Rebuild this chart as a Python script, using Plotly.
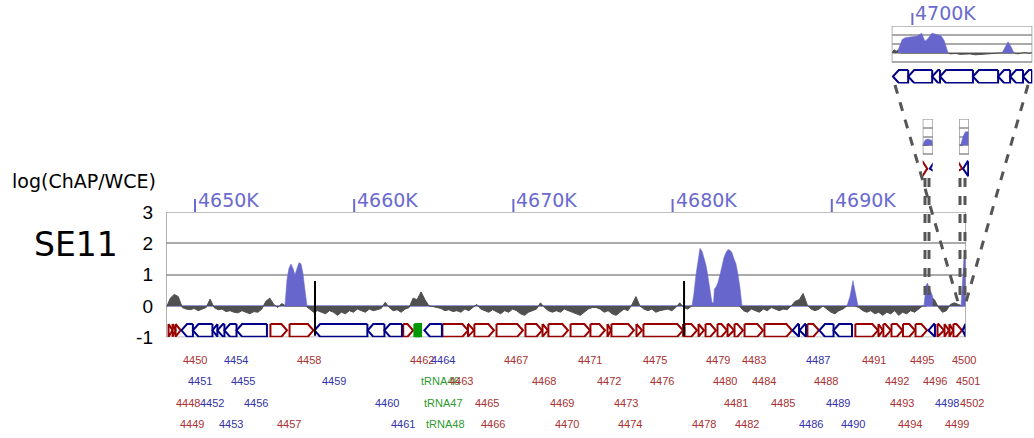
import numpy as np
import plotly.graph_objects as go

W, H = 1034, 438

# main window (kb)
view_kb = [4648.18, 4698.43]
tick_kb = [4650, 4660, 4670, 4680, 4690]
tick_text = ['4650K', '4660K', '4670K', '4680K', '4690K']
y_ticks = [-1, 0, 1, 2, 3]

# log(ChAP/WCE), one value every 0.25 kb from 4648.2 kb
sig_start, sig_step = 4648.2, 0.25
sig_val = [
    -0.05, 0.25, 0.37, 0.3, -0.05, -0.1, -0.12, -0.08, -0.15, -0.1,
    -0.05, 0.22, -0.05, -0.12, -0.1, -0.18, -0.15, -0.2, -0.22, -0.15,
    -0.2, -0.25, -0.18, -0.2, -0.1, 0.15, 0.25, 0.05, -0.05, 0.08,
    0, 0, 0, 0, 0, 0, -0.1, -0.2, -0.15, -0.2,
    -0.25, -0.15, -0.2, -0.3, -0.2, -0.25, -0.15, -0.2, -0.1, -0.15,
    -0.2, -0.1, -0.15, -0.12, -0.08, 0.12, -0.05, -0.15, -0.12, -0.2,
    -0.1, -0.05, 0.25, 0.2, 0.45, 0.2, 0.0, -0.02, -0.05, -0.08,
    -0.15, -0.12, -0.18, -0.15, -0.2, -0.1, -0.15, -0.05, 0.05, -0.1,
    -0.15, -0.2, -0.12, -0.18, -0.25, -0.15, -0.2, -0.1, -0.15, -0.25,
    -0.3, -0.2, -0.15, -0.1, 0.1, -0.05, -0.15, -0.2, -0.15, -0.2,
    -0.1, -0.15, -0.2, -0.25, -0.3, -0.2, -0.1, -0.05, -0.05, -0.1,
    -0.2, -0.15, -0.25, -0.3, -0.2, -0.1, -0.15, 0.05, 0.3, 0.0,
    -0.1, -0.15, -0.1, -0.2, -0.15, -0.12, -0.1, -0.15, -0.05, 0.1,
    -0.05, -0.1, 0, 0, 0, 0, 0, 0, 0, 0,
    0, 0, 0, 0, 0, -0.15, -0.2, -0.1, -0.15, -0.2,
    -0.1, -0.15, -0.05, -0.1, -0.15, -0.1, -0.12, 0.0, 0.15, 0.2,
    0.4, 0.05, -0.1, -0.15, -0.1, 0.0, -0.1, -0.2, -0.25, -0.15,
    -0.1, 0, 0, 0, -0.05, -0.15, -0.2, -0.15, -0.25, -0.2,
    -0.3, -0.2, -0.25, -0.15, -0.3, -0.2, -0.25, -0.15, -0.2, -0.1,
    0, 0, 0.3, 0.2, -0.05, -0.2, -0.15, 0.05, 0.1, 0.05,
    0,
]
sig_kb = sig_start + sig_step * np.arange(len(sig_val))

# called peaks (blue)
peakA_kb = [4655.65, 4655.78, 4655.90, 4656.03, 4656.16, 4656.28, 4656.41, 4656.53, 4656.66, 4656.78, 4656.91, 4657.04]
peakA_val = [0, 0.85, 1.2, 1.34, 1.2, 1.0, 1.2, 1.38, 1.35, 1.05, 0.5, 0]
peakB_kb = [4681.22, 4681.34, 4681.47, 4681.60, 4681.72, 4681.85, 4681.97, 4682.10, 4682.22, 4682.35,
            4682.47, 4682.57, 4682.63, 4682.73, 4682.85, 4682.98, 4683.10, 4683.23, 4683.35, 4683.48,
            4683.61, 4683.73, 4683.86, 4683.98, 4684.11, 4684.23, 4684.36]
peakB_val = [0, 0.4, 1.0, 1.5, 1.84, 1.75, 1.55, 1.3, 0.95, 0.45,
             0.12, 0.1, 0.55, 0.6, 0.75, 1.0, 1.3, 1.55, 1.7, 1.8,
             1.78, 1.7, 1.5, 1.35, 1.0, 0.6, 0]
peakC_kb = [4690.95, 4691.14, 4691.27, 4691.33, 4691.39, 4691.52, 4691.65]
peakC_val = [0, 0.3, 0.65, 0.81, 0.65, 0.3, 0]
peakD_kb = [4695.79, 4695.92, 4696.01, 4696.16, 4696.34]
peakD_val = [0, 0.65, 0.73, 0.5, 0.3]
peakE_kb = [4698.12, 4698.21, 4698.30, 4698.43]
peakE_val = [0, 1.0, 1.55, 1.55]

# genes ('+' forward, '-' reverse, 't' tRNA)
gene_name = ['4448', '4449', '4450', '4451', '4452', '4453', '4454', '4455', '4456', '4457',
             '4458', '4459', '4460', '4461', '4462', 'tRNA46', 'tRNA47', 'tRNA48', '4464', '4463',
             '4465', '4466', '4467', '4468', '4469', '4470', '4471', '4472', '4473', '4474',
             '4475', '4476', '', '4478', '4479', '4480', '4481', '4482', '4483', '4484',
             '4485', '4486', '4487', '4488', '4489', '4490', '4491', '4492', '4493', '4494',
             '4495', '4496', '4498', '4499', '4500', '4501', '4502', '']
gene_start = [4648.34, 4648.59, 4648.78, 4649.15, 4649.87, 4651.10, 4651.41, 4651.85, 4652.61, 4654.74,
              4655.94, 4657.51, 4660.85, 4661.90, 4663.08, 4663.78, 4663.92, 4664.06, 4664.41, 4665.54,
              4667.15, 4667.55, 4668.94, 4670.76, 4671.83, 4672.20, 4673.59, 4674.84, 4675.91, 4676.16,
              4677.73, 4678.17, 4680.66, 4680.75, 4681.63, 4682.07, 4682.82, 4683.45, 4683.89, 4684.52,
              4685.77, 4687.53, 4687.97, 4688.47, 4689.22, 4690.11, 4691.48, 4692.93, 4693.24, 4693.75,
              4694.47, 4695.26, 4696.07, 4696.64, 4697.08, 4697.39, 4697.64, 4698.21]
gene_end = [4648.59, 4648.78, 4649.10, 4649.87, 4651.10, 4651.41, 4651.85, 4652.61, 4654.52, 4655.78,
            4657.44, 4660.83, 4661.90, 4663.00, 4663.70, 4663.92, 4664.06, 4664.20, 4665.51, 4667.15,
            4667.52, 4668.78, 4670.60, 4671.80, 4672.17, 4673.43, 4674.81, 4675.75, 4676.13, 4677.57,
            4678.08, 4680.65, 4680.74, 4681.53, 4681.97, 4682.72, 4683.42, 4683.86, 4684.42, 4685.68,
            4687.50, 4687.94, 4688.38, 4689.19, 4690.11, 4691.27, 4692.90, 4693.21, 4693.71, 4694.44,
            4695.22, 4695.98, 4696.48, 4697.05, 4697.36, 4697.62, 4698.18, 4698.40]
gene_strand = ['+', '+', '+', '-', '-', '-', '-', '-', '-', '+',
               '+', '-', '-', '-', '+', 't', 't', 't', '-', '+',
               '+', '+', '+', '+', '+', '+', '+', '+', '+', '+',
               '+', '+', '+', '+', '+', '+', '+', '+', '+', '+',
               '+', '-', '-', '+', '-', '-', '+', '+', '+', '+',
               '+', '+', '-', '+', '+', '+', '+', '-']

mark_kb = [4657.54, 4680.72]

# inset window near 4700K
inset_view = [4699.31, 4704.0]
inset_tick_kb = [4700]
inset_tick_text = ['4700K']
inset_sig_kb = [4699.32, 4699.39, 4699.46, 4699.52, 4699.6, 4701.2, 4701.26, 4701.45, 4701.59, 4701.75,
                4701.92, 4702.1, 4702.26, 4702.45, 4702.59, 4702.75, 4702.92, 4703.4, 4703.52, 4703.65,
                4703.76, 4703.88, 4703.99]
inset_sig_val = [0.1, 0.35, 0.2, 0.3, 0, 0, -0.1, -0.05, -0.15, -0.1,
                 -0.1, -0.2, -0.15, -0.1, -0.1, -0.05, 0, 0, -0.1, 0,
                 0.05, -0.05, 0.05]
inset_peak1_kb = [4699.52, 4699.59, 4699.66, 4699.76, 4699.92, 4700.16, 4700.31, 4700.42, 4700.52, 4700.65,
                  4700.76, 4700.96, 4701.06, 4701.16, 4701.19]
inset_peak1_val = [0.3, 0.9, 1.5, 1.7, 1.8, 1.9, 2.2, 1.3, 1.6, 2.2,
                   2.1, 1.9, 1.4, 0.3, 0]
inset_peak2_kb = [4702.99, 4703.09, 4703.19, 4703.29, 4703.39]
inset_peak2_val = [0, 0.6, 1.25, 0.7, 0]
inset_gene_start = [4699.35, 4699.86, 4700.66, 4700.92, 4702.02, 4702.86, 4703.26, 4703.69]
inset_gene_end = [4699.86, 4700.66, 4700.92, 4702.02, 4702.86, 4703.26, 4703.69, 4703.99]

# small zoom windows above the right end
mini1_view = [4695.82, 4696.17]
mini2_view = [4698.06, 4698.43]

RED, BLUE, GREEN = '#990000', '#000088', '#009900'
LBL = {'+': '#a83232', '-': '#3232a8', 't': '#2e9a2e'}
PEAK, GREY, TICK = '#6666cc', '#505050', '#6a6ad0'
FONT = 'Liberation Sans, Arial, sans-serif'
WIDE = 'DejaVu Sans, Verdana, sans-serif'


def px(x):
    return x / W


def py(y):
    return 1 - y / H


def gene_paths(starts, ends, strands, want, tip, top, bot):
    xs, ys = [], []
    mid = (top + bot) / 2
    for s, e, st in zip(starts, ends, strands):
        if st != want:
            continue
        t = min(tip, e - s)
        if st == '+':
            gx = [s, e - t, e, e - t, s, s]
            gy = [top, top, mid, bot, bot, top]
        elif st == '-':
            gx = [e, s + t, s, s + t, e, e]
            gy = [top, top, mid, bot, bot, top]
        else:
            gx = [s, e, e, s, s]
            gy = [top, top, bot, bot, top]
        xs += gx + [None]
        ys += gy + [None]
    return xs, ys


fig = go.Figure()


def add_track(xa, ya, sk, sv, peaks, starts, ends, strands, top, bot, tip):
    fig.add_trace(go.Scatter(x=sk, y=sv, mode='lines', fill='tozeroy', fillcolor=GREY,
                             line=dict(color=GREY, width=1), xaxis=xa, yaxis=ya,
                             hoverinfo='skip', showlegend=False))
    for k, v in peaks:
        fig.add_trace(go.Scatter(x=k, y=v, mode='lines', fill='tozeroy', fillcolor=PEAK,
                                 line=dict(color=PEAK, width=0.5), xaxis=xa, yaxis=ya,
                                 hoverinfo='skip', showlegend=False))
    for st, col, fc in [('+', RED, 'white'), ('-', BLUE, 'white'), ('t', GREEN, GREEN)]:
        xs, ys = gene_paths(starts, ends, strands, st, tip, top, bot)
        if not xs:
            continue
        fig.add_trace(go.Scatter(x=xs, y=ys, mode='lines', fill='toself', fillcolor=fc,
                                 line=dict(color=col, width=2), xaxis=xa, yaxis=ya,
                                 hoverinfo='skip', showlegend=False))


main_peaks = [(peakA_kb, peakA_val), (peakB_kb, peakB_val), (peakC_kb, peakC_val),
              (peakD_kb, peakD_val), (peakE_kb, peakE_val)]

# main track
add_track('x', 'y', sig_kb, sig_val, main_peaks, gene_start, gene_end, gene_strand, -0.575, -0.98, 0.35)
for m in mark_kb:
    fig.add_trace(go.Scatter(x=[m, m], y=[0.8, -0.95], mode='lines', line=dict(color='black', width=2),
                             hoverinfo='skip', showlegend=False))

# inset track
add_track('x2', 'y2', inset_sig_kb, inset_sig_val,
          [(inset_peak1_kb, inset_peak1_val), (inset_peak2_kb, inset_peak2_val)],
          inset_gene_start, inset_gene_end, ['-'] * len(inset_gene_start), -1.9, -3.33, 0.2)

# two tiny zooms
add_track('x3', 'y3', sig_kb, sig_val, main_peaks, gene_start, gene_end, gene_strand, -1.8, -3.5, 0.17)
add_track('x4', 'y4', sig_kb, sig_val, main_peaks, gene_start, gene_end, gene_strand, -1.8, -3.5, 0.17)

shapes = []
annotations = []

# main x ticks (above the plot)
for k, t in zip(tick_kb, tick_text):
    shapes.append(dict(type='line', xref='x', yref='paper', x0=k, x1=k, y0=py(212), y1=py(199),
                       line=dict(color=TICK, width=2)))
    annotations.append(dict(x=k, y=py(200), xref='x', yref='paper', text=t, showarrow=False,
                            xanchor='left', yanchor='middle', xshift=1,
                            font=dict(size=19, color=TICK, family=WIDE)))
for k, t in zip(inset_tick_kb, inset_tick_text):
    shapes.append(dict(type='line', xref='x2', yref='paper', x0=k, x1=k, y0=py(25), y1=py(13),
                       line=dict(color=TICK, width=2)))
    annotations.append(dict(x=k, y=py(12.5), xref='x2', yref='paper', text=t, showarrow=False,
                            xanchor='left', yanchor='middle', xshift=1,
                            font=dict(size=19, color=TICK, family=WIDE)))

# box edges of main plot, inset and tiny zooms
for xa, ya, v in [('x', 'y', view_kb), ('x2', 'y2', inset_view), ('x3', 'y3', mini1_view), ('x4', 'y4', mini2_view)]:
    for xv in v:
        shapes.append(dict(type='line', xref=xa, yref=ya, x0=xv, x1=xv, y0=-1, y1=3,
                           line=dict(color='#999999', width=1.5)))
    for yv in [-1, 3]:
        shapes.append(dict(type='line', xref=xa, yref=ya, x0=v[0], x1=v[1], y0=yv, y1=yv,
                           line=dict(color='#aaaaaa', width=1.5), layer='below'))

# dashed connectors
dash = dict(color='#555555', width=3, dash='dash')
for (x0, y0, x1, y1) in [(895, 85, 958, 302), (1028, 85, 966, 302),
                         (925, 178, 925, 300), (929, 178, 929, 300),
                         (960, 178, 960, 300), (965, 178, 965, 300)]:
    shapes.append(dict(type='line', xref='paper', yref='paper', x0=px(x0), y0=py(y0),
                       x1=px(x1), y1=py(y1), line=dash))

# gene labels (four staggered rows)
row_y = [360, 381, 403, 424]
for i, (n, s, st) in enumerate(zip(gene_name, gene_start, gene_strand)):
    if not n:
        continue
    annotations.append(dict(x=s, y=py(row_y[(i + 2) % 4]), xref='x', yref='paper', text=n,
                            showarrow=False, xanchor='left', yanchor='middle', xshift=5,
                            font=dict(size=11, color=LBL[st], family=FONT)))

annotations.append(dict(x=px(10), y=py(181), xref='paper', yref='paper', text='log(ChAP/WCE)',
                        showarrow=False, xanchor='left', yanchor='middle',
                        font=dict(size=19, color='black', family=WIDE)))
annotations.append(dict(x=px(32), y=py(244), xref='paper', yref='paper', text='SE11',
                        showarrow=False, xanchor='left', yanchor='middle',
                        font=dict(size=33, color='black', family=WIDE)))

hidden_x = dict(showgrid=False, zeroline=False, showticklabels=False, showline=False, ticks='',
                automargin=False)
box_y = dict(showgrid=True, gridcolor='#aaaaaa', gridwidth=1.5, tickvals=y_ticks,
             showticklabels=False, ticks='', zeroline=False, showline=False, automargin=False)

fig.update_layout(
    width=W, height=H,
    margin=dict(l=0, r=0, t=0, b=0, pad=0, autoexpand=False),
    paper_bgcolor='white', plot_bgcolor='rgba(0,0,0,0)',
    showlegend=False,
    xaxis=dict(hidden_x, range=view_kb, domain=[px(166), px(966)]),
    yaxis=dict(range=[-1, 3], domain=[py(337.3), py(212)], tickvals=y_ticks,
               ticktext=[str(v) for v in y_ticks], showgrid=True, gridcolor='#aaaaaa', gridwidth=1.5,
               zeroline=True, zerolinecolor='#9696cc', zerolinewidth=2,
               showline=False, ticks='', ticklabelstandoff=12, automargin=False,
               tickfont=dict(size=19, color='black', family=FONT)),
    xaxis2=dict(hidden_x, range=inset_view, domain=[px(891.7), px(1032.3)], anchor='y2'),
    yaxis2=dict(box_y, range=[-3.4, 3], domain=[py(83.6), py(26)], anchor='x2'),
    xaxis3=dict(hidden_x, range=mini1_view, domain=[px(922.7), px(932.7)], anchor='y3'),
    yaxis3=dict(box_y, range=[-3.6, 3], domain=[py(177), py(119)], anchor='x3'),
    xaxis4=dict(hidden_x, range=mini2_view, domain=[px(959), px(969)], anchor='y4'),
    yaxis4=dict(box_y, range=[-3.6, 3], domain=[py(177), py(119)], anchor='x4'),
    shapes=shapes,
    annotations=annotations,
)

fig.write_html("out.html", config={'displayModeBar': False},
               post_script="document.body.style.margin='0';")
